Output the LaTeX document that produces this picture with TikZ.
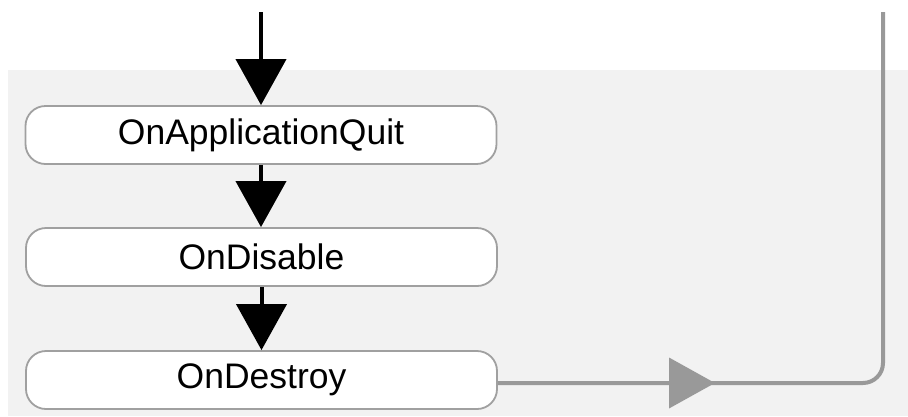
\documentclass[tikz,border=0pt]{standalone}
\usepackage{fontspec}
\setmainfont{Liberation Sans}
\usetikzlibrary{arrows.meta}
\definecolor{bggray}{HTML}{F2F2F2}
\definecolor{edgegray}{HTML}{A0A0A0}
\definecolor{flowgray}{HTML}{999999}
\begin{document}
\begin{tikzpicture}[x=1pt,y=-1pt,
  evbox/.style={draw=edgegray, line width=1.8pt, fill=white, rounded corners=20pt,
    minimum width=471pt, minimum height=58pt, inner sep=0pt,
    font=\fontsize{35.5}{40}\selectfont},
  blackflow/.style={line width=4pt, black, -{Triangle[length=46pt,width=50pt]}},
  grayflow/.style={line width=4pt, flowgray}
]
\useasboundingbox (0,0) rectangle (908,416);
\fill[white] (0,0) rectangle (908,416);
\fill[bggray] (8,70) rectangle (908,416);

\node[evbox] (A) at (261,135) {OnApplicationQuit};
\node[evbox] (B) at (261.5,257) {OnDisable};
\node[evbox] (C) at (261.5,380) {OnDestroy};

\coordinate (top) at (261,12);
\coordinate (corner) at (883,383);
\coordinate (exit) at (883,12);
\coordinate (mid) at (715,383);

\draw[blackflow] (top) -- (A.north);
\draw[blackflow] (A.south) -- (A.south |- B.north);
\draw[blackflow] (B.south) -- (C.north);

\draw[grayflow, rounded corners=20pt] (C.east |- corner) -- (corner) -- (exit);
\draw[grayflow, -{Triangle[length=46pt,width=50pt]}] (C.east |- corner) -- (mid);
\end{tikzpicture}
\end{document}
